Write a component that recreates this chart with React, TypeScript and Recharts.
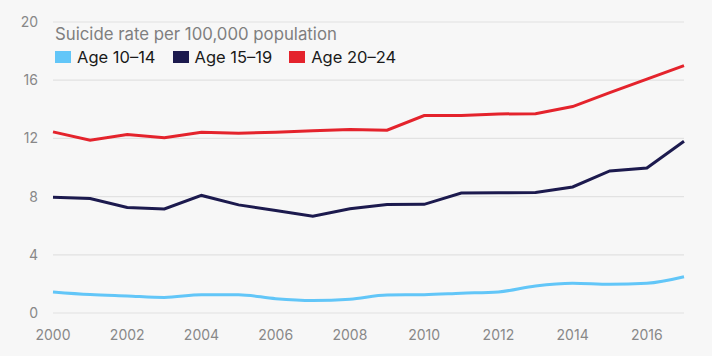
import React from "react";
import { LineChart, Line, XAxis, YAxis, CartesianGrid } from "recharts";

const years = [2000, 2001, 2002, 2003, 2004, 2005, 2006, 2007, 2008, 2009, 2010, 2011, 2012, 2013, 2014, 2015, 2016, 2017];
const age10to14 = [1.45, 1.27, 1.17, 1.07, 1.26, 1.26, 0.98, 0.86, 0.95, 1.24, 1.26, 1.36, 1.45, 1.86, 2.04, 1.97, 2.04, 2.49];
const age15to19 = [7.95, 7.87, 7.25, 7.15, 8.08, 7.43, 7.05, 6.65, 7.17, 7.46, 7.47, 8.25, 8.27, 8.28, 8.66, 9.76, 9.96, 11.8];
const age20to24 = [12.45, 11.87, 12.27, 12.05, 12.43, 12.36, 12.42, 12.52, 12.62, 12.56, 13.57, 13.57, 13.68, 13.7, 14.19, 15.15, 16.07, 17.0];
const xTicks = [2000, 2002, 2004, 2006, 2008, 2010, 2012, 2014, 2016];
const yTicks = [0, 4, 8, 12, 16, 20];
const title = "Suicide rate per 100,000 population";
const seriesNames = ["Age 10–14", "Age 15–19", "Age 20–24"];
const seriesColors = ["#62c6f8", "#1c1a4e", "#e4232c"];

const data = years.map((y, i) => ({
  year: y,
  a: age10to14[i],
  b: age15to19[i],
  c: age20to24[i],
}));

const FONT = "Inter, 'Noto Sans', sans-serif";

export default function App() {
  return (
    <div style={{ position: "fixed", left: 0, top: 0, width: 712, height: 356, background: "#f7f7f7" }}>
      <LineChart width={712} height={356} data={data} margin={{ top: 22, right: 28, bottom: 0, left: 0 }}>
        <CartesianGrid vertical={false} stroke="#e2e2e2" strokeWidth={1.2} />
        <XAxis
          dataKey="year"
          type="number"
          domain={[2000, 2017]}
          ticks={xTicks}
          axisLine={false}
          tickLine={false}
          tickMargin={11}
          height={43}
          tick={{ fill: "#888", fontSize: 14, fontFamily: FONT }}
        />
        <YAxis
          domain={[0, 20]}
          ticks={yTicks}
          axisLine={false}
          tickLine={false}
          tickMargin={9}
          width={53}
          tick={{ fill: "#888", fontSize: 14, fontFamily: FONT }}
        />
        <Line dataKey="a" type="monotone" stroke={seriesColors[0]} strokeWidth={3} dot={false} isAnimationActive={false} />
        <Line dataKey="b" type="linear" stroke={seriesColors[1]} strokeWidth={3} dot={false} isAnimationActive={false} />
        <Line dataKey="c" type="linear" stroke={seriesColors[2]} strokeWidth={3} dot={false} isAnimationActive={false} />
      </LineChart>
      <div style={{ position: "absolute", left: 55, top: 24, fontFamily: FONT }}>
        <div style={{ fontSize: 16.8, color: "#7f7f7f", lineHeight: "20px", whiteSpace: "nowrap" }}>{title}</div>
        <div style={{ display: "flex", alignItems: "center", marginTop: 3 }}>
          {seriesNames.map((n, i) => (
            <div key={n} style={{ display: "flex", alignItems: "center", marginRight: 17 }}>
              <div style={{ width: 16, height: 12, background: seriesColors[i], marginRight: 6 }} />
              <span style={{ fontSize: 16.5, color: "#1a1a1a", lineHeight: "20px", whiteSpace: "nowrap" }}>{n}</span>
            </div>
          ))}
        </div>
      </div>
    </div>
  );
}
